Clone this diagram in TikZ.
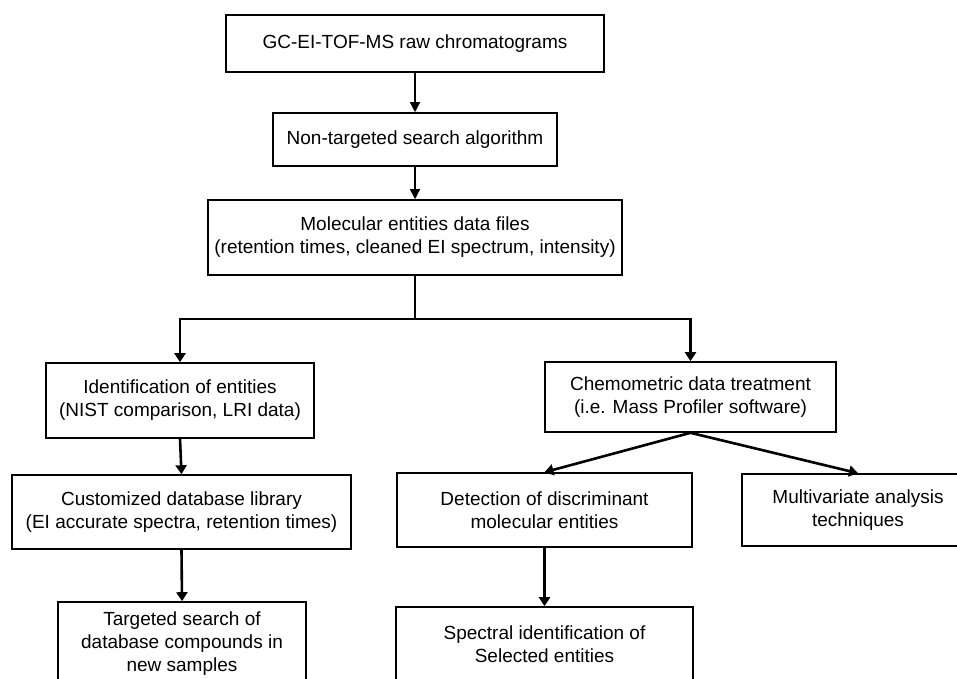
\documentclass[tikz,border=0pt]{standalone}
\usepackage{fontspec}
\setmainfont{Liberation Sans}
\usetikzlibrary{arrows.meta}
\begin{document}
\begin{tikzpicture}[x=1pt,y=-1pt,
  box/.style={draw=black, line width=1.6pt, align=center, inner sep=2pt,
    font=\fontsize{19}{23}\selectfont},
  thinarr/.style={line width=1.3pt, -{Triangle[length=10pt,width=10pt]}},
  thickarr/.style={line width=2.6pt, -{Triangle[length=9pt,width=11pt]}},
  thickline/.style={line width=2.6pt}]
\useasboundingbox (0,0) rectangle (957,678);
\clip (0,0) rectangle (957,678);
\fill[white] (0,0) rectangle (957,678);
\node[box, minimum width=378pt, minimum height=57pt] (b1) at (415,43.5) {GC-EI-TOF-MS raw chromatograms};
\node[box, minimum width=284pt, minimum height=53pt] (b2) at (415,139.5) {Non-targeted search algorithm};
\node[box, minimum width=414pt, minimum height=75pt] (b3) at (415,237.5) {Molecular entities data files\\(retention times, cleaned EI spectrum, intensity)};
\node[box, minimum width=268pt, minimum height=75pt] (ident) at (180,400.5) {Identification of entities\\(NIST comparison, LRI data)};
\node[box, minimum width=291pt, minimum height=70pt] (chemo) at (690.5,397) {Chemometric data treatment\\(i.e. Mass Profiler software)};
\node[box, minimum width=339pt, minimum height=74pt] (custom) at (181.5,512) {Customized database library\\(EI accurate spectra, retention times)};
\node[box, minimum width=295pt, minimum height=74pt] (detect) at (544.5,510) {Detection of discriminant\\molecular entities};
\node[box, minimum width=232pt, minimum height=72pt] (multi) at (858,510) {Multivariate analysis\\techniques};
\node[box, minimum width=248pt, minimum height=84pt] (target) at (182,644) {Targeted search of\\database compounds in\\new samples};
\node[box, minimum width=297pt, minimum height=75pt] (spec) at (544.5,644.5) {Spectral identification of\\Selected entities};
\draw[thinarr] (b1.south) -- (b2.north);
\draw[thinarr] (b2.south) -- (b3.north);
\draw[thickline] (b3.south) -- ++(0,43) coordinate (br);
\draw[thickarr] (br) -| (ident.north);
\draw[thickarr] (br) -| (chemo.north);
\draw[thickarr] (ident.south) -- (custom.north);
\draw[thickarr] (custom.south) -- (target.north);
\draw[thickarr] (chemo.south) -- (detect.north);
\draw[thickarr] (chemo.south) -- (multi.north);
\draw[thickarr] (detect.south) -- (spec.north);
\end{tikzpicture}
\end{document}
